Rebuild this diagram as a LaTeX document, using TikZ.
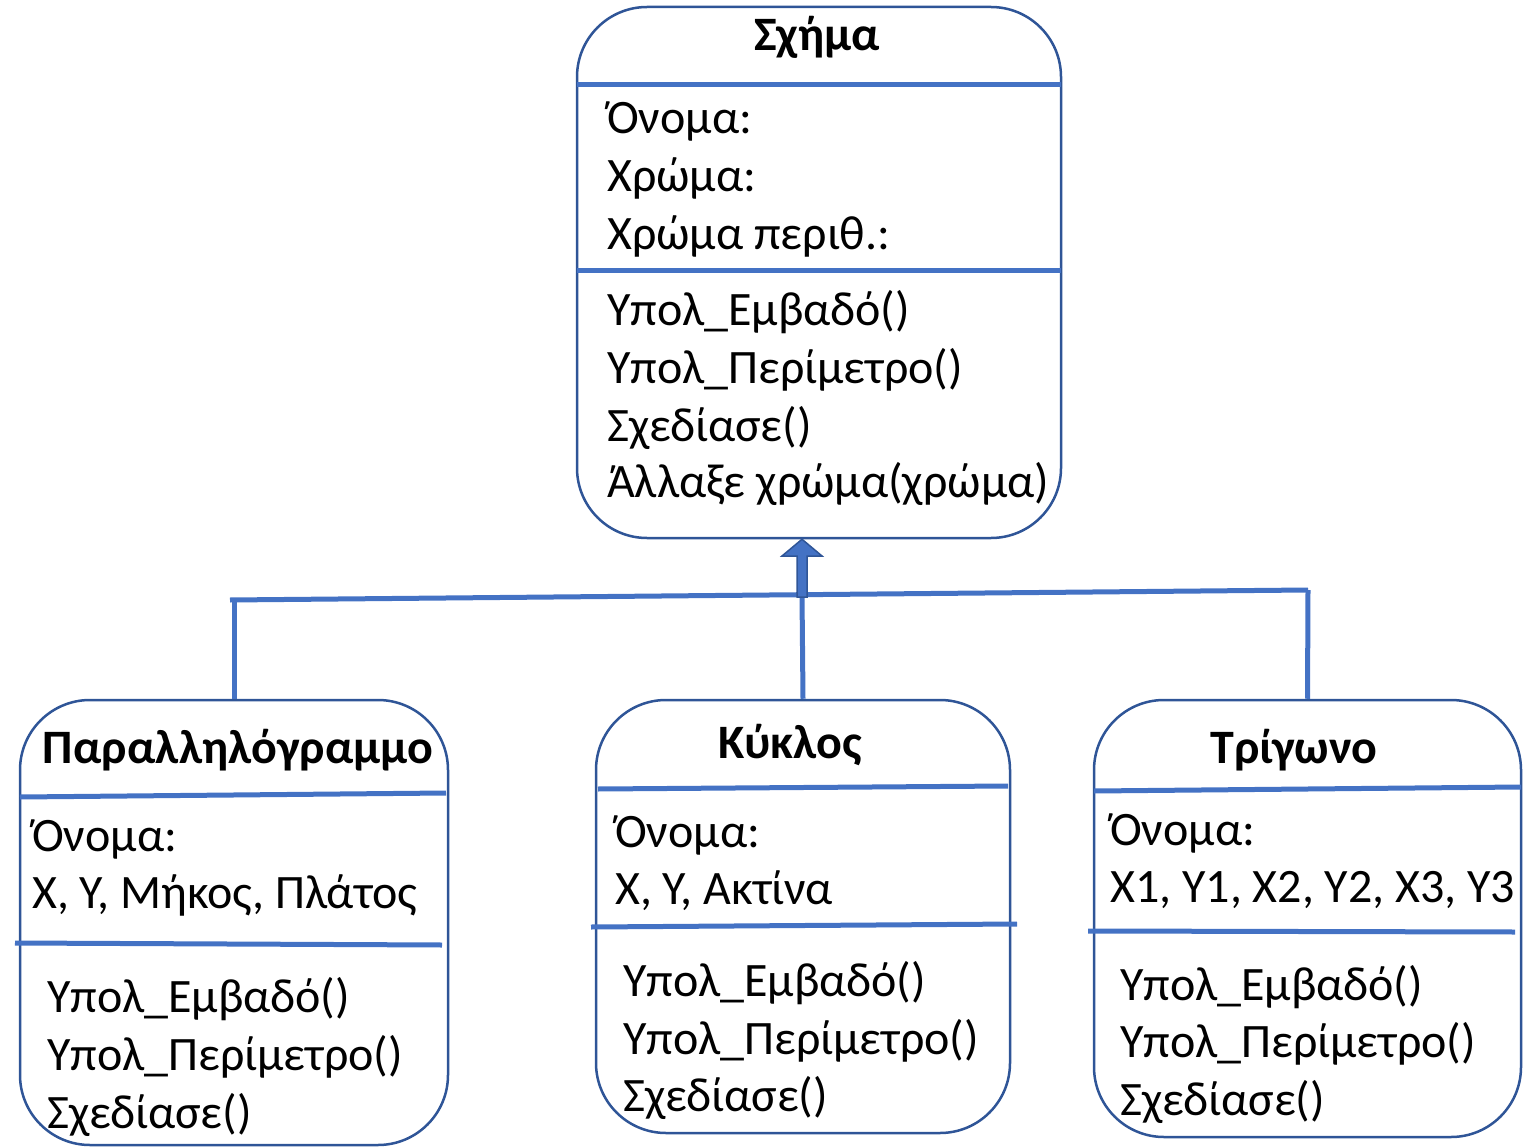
\documentclass[tikz,border=0pt]{standalone}
\usepackage{fontspec}
\setmainfont{Carlito}
\definecolor{boxblue}{HTML}{2F5597}
\definecolor{lineblue}{HTML}{4472C4}
\tikzset{
  cls/.style={draw=boxblue, line width=2.5pt, rounded corners=70pt, inner sep=0pt},
  sep/.style={draw=lineblue, line width=5pt},
  conn/.style={draw=lineblue, line width=5pt},
  txt/.style={anchor=base west, inner sep=0pt, font=\fontsize{48}{56}\selectfont},
  ttl/.style={anchor=base, inner sep=0pt, font=\fontsize{48}{56}\selectfont\bfseries},
}
\begin{document}
\begin{tikzpicture}[x=1pt,y=-1pt]
\useasboundingbox (0,0) rectangle (1539,1147);
% class boxes
\node[cls, minimum width=484pt, minimum height=531pt] (shape) at (819,272.5) {};
\node[cls, minimum width=428pt, minimum height=445pt] (par) at (234,922.5) {};
\node[cls, minimum width=414pt, minimum height=433pt] (circ) at (803,916.5) {};
\node[cls, minimum width=427pt, minimum height=437pt] (tri) at (1307.5,918.5) {};
% separators
\draw[sep] (577,85) -- (1061,85);
\draw[sep] (577,271) -- (1061,271);
\draw[sep] (20,797) -- (446,793);
\draw[sep] (15,943) -- (442,945);
\draw[sep] (598,789) -- (1008,786);
\draw[sep] (591,927) -- (1017,924);
\draw[sep] (1094,791) -- (1521,787);
\draw[sep] (1088,931) -- (1515,932);
% texts: Σχήμα
\node[ttl] (t0) at (817,51) {Σχήμα};
\node[txt] (a01) at (607,134) {Όνομα:};
\node[txt] (a02) at (607,192) {Χρώμα:};
\node[txt] (a03) at (607,250) {Χρώμα περιθ.:};
\node[txt] (m01) at (607,326) {Υπολ\_Εμβαδό()};
\node[txt] (m02) at (607,384) {Υπολ\_Περίμετρο()};
\node[txt] (m03) at (607,441) {Σχεδίασε()};
\node[txt] (m04) at (607,497) {Άλλαξε χρώμα(χρώμα)};
% Παραλληλόγραμμο
\node[ttl] (t1) at (238,763) {Παραλληλόγραμμο};
\node[txt] (a11) at (32,851) {Όνομα:};
\node[txt] (a12) at (32,908) {Χ, Υ, Μήκος, Πλάτος};
\node[txt] (m11) at (47,1012) {Υπολ\_Εμβαδό()};
\node[txt] (m12) at (47,1070) {Υπολ\_Περίμετρο()};
\node[txt] (m13) at (47,1128) {Σχεδίασε()};
% Κύκλος
\node[ttl] (t2) at (790,758) {Κύκλος};
\node[txt] (a21) at (615,847) {Όνομα:};
\node[txt] (a22) at (615,904) {Χ, Υ, Ακτίνα};
\node[txt] (m21) at (623,996) {Υπολ\_Εμβαδό()};
\node[txt] (m22) at (623,1054) {Υπολ\_Περίμετρο()};
\node[txt] (m23) at (623,1111) {Σχεδίασε()};
% Τρίγωνο
\node[ttl] (t3) at (1294,763) {Τρίγωνο};
\node[txt] (a31) at (1110,845) {Όνομα:};
\node[txt] (a32) at (1110,902) {X1, Y1, X2, Y2, X3, Y3};
\node[txt] (m31) at (1120,1000) {Υπολ\_Εμβαδό()};
\node[txt] (m32) at (1120,1057) {Υπολ\_Περίμετρο()};
\node[txt] (m33) at (1120,1115) {Σχεδίασε()};
% connectors
\coordinate (jL) at (230,600);
\coordinate (jC) at (802,595);
\coordinate (jR) at (1308,590);
\draw[conn] (jL) -- (jR);
\draw[conn] (par.north) -- (234,600);
\draw[conn] (circ.north) -- (jC);
\draw[conn] (tri.north) -- (jR);
% generalisation arrow
\coordinate (tip) at ([xshift=-17pt]shape.south);
\filldraw[fill=lineblue, draw=boxblue, line width=1.5pt, line join=miter]
  (797,597) -- (797,556) -- (782,556) -- (tip) -- (822,556) -- (807,556) -- (807,597) -- cycle;
\end{tikzpicture}
\end{document}
